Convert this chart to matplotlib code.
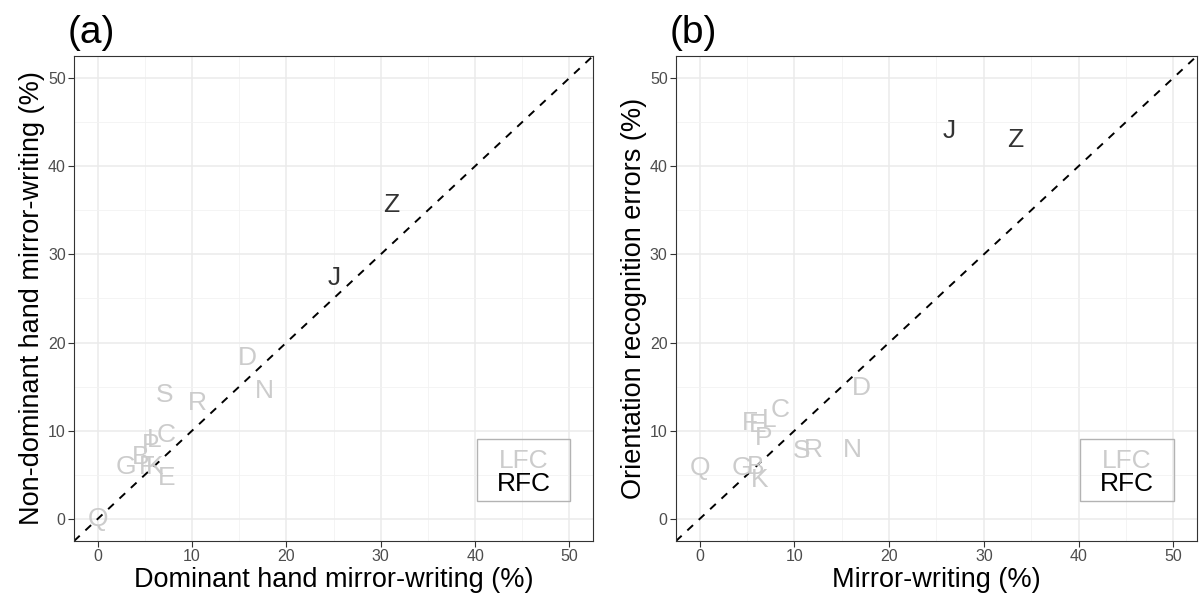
import matplotlib
matplotlib.use("Agg")
import matplotlib.pyplot as plt
from matplotlib.patches import Rectangle
import numpy as np

plt.rcParams['font.family'] = ['Liberation Sans', 'DejaVu Sans']

# letters and their group (LFC / RFC)
letters = ['Q', 'G', 'B', 'P', 'L', 'C', 'F', 'K', 'E', 'S', 'R', 'D', 'N', 'J', 'Z']
group = ['LFC'] * 13 + ['RFC'] * 2

# panel (a): dominant vs non-dominant hand mirror-writing (%)
dominant = [0.0, 3.0, 4.6, 5.6, 6.0, 7.3, 5.2, 6.0, 7.3, 7.1, 10.6, 15.9, 17.7, 25.1, 31.1]
nondominant = [0.0, 5.9, 7.0, 8.4, 8.9, 9.5, 5.9, 5.9, 4.6, 14.0, 13.1, 18.3, 14.5, 27.3, 35.6]

# panel (b): mirror-writing vs orientation recognition errors (%)
mirror = [0.0, 4.5, 5.9, 6.8, 7.3, 8.5, 5.3, 6.3, 6.1, 10.8, 12.0, 17.1, 16.1, 26.3, 33.3]
orientation = [5.8, 5.8, 5.9, 9.2, 11.2, 12.3, 10.9, 4.4, 10.6, 7.7, 7.8, 14.9, 7.8, 44.0, 43.0]

colors = {'LFC': '#cccccc', 'RFC': '#333333'}
ticks = [0, 10, 20, 30, 40, 50]

fig = plt.figure(figsize=(12, 6.01), dpi=100)
ax1 = fig.add_axes([0.0617, 0.0998, 0.4325, 0.8072])
ax2 = fig.add_axes([0.5633, 0.0998, 0.4342, 0.8072])

panels = [
    (ax1, dominant, nondominant, 'Dominant hand mirror-writing (%)',
     'Non-dominant hand mirror-writing (%)', '(a)'),
    (ax2, mirror, orientation, 'Mirror-writing (%)',
     'Orientation recognition errors (%)', '(b)'),
]

for ax, xs, ys, xlab, ylab, tag in panels:
    ax.set_xlim(-2.5, 52.5)
    ax.set_ylim(-2.5, 52.5)
    ax.set_xticks(ticks)
    ax.set_yticks(ticks)
    ax.set_xticks([5, 15, 25, 35, 45], minor=True)
    ax.set_yticks([5, 15, 25, 35, 45], minor=True)
    ax.grid(True, which='major', color='#ebebeb', lw=1.1)
    ax.grid(True, which='minor', color='#f2f2f2', lw=0.6)
    ax.set_axisbelow(True)
    ax.tick_params(which='minor', length=0)
    ax.tick_params(which='major', length=4, color='#333333', width=0.8,
                   labelsize=11.5, labelcolor='#4d4d4d', pad=2)
    for s in ax.spines.values():
        s.set_color('#333333')
        s.set_linewidth(0.8)

    ax.plot([-2.5, 52.5], [-2.5, 52.5], ls=(0, (4, 4)), color='black', lw=1.4)

    for lab, g, x, y in zip(letters, group, xs, ys):
        ax.text(x, y, lab, color=colors[g], fontsize=19, ha='center', va='center')

    ax.set_xlabel(xlab, fontsize=19.5, labelpad=2)
    ax.set_ylabel(ylab, fontsize=19.5, labelpad=2)
    ax.text(-0.012, 1.01, tag, transform=ax.transAxes, fontsize=28,
            ha='left', va='bottom')

    # legend box
    ax.add_patch(Rectangle((0.776, 0.082), 0.18, 0.128, transform=ax.transAxes,
                           fill=False, edgecolor='#b3b3b3', lw=1.0))
    ax.text(0.866, 0.165, 'LFC', transform=ax.transAxes, color=colors['LFC'],
            fontsize=19, ha='center', va='center')
    ax.text(0.866, 0.117, 'RFC', transform=ax.transAxes, color='black',
            fontsize=19, ha='center', va='center')

fig.savefig('out.png', dpi=100)
